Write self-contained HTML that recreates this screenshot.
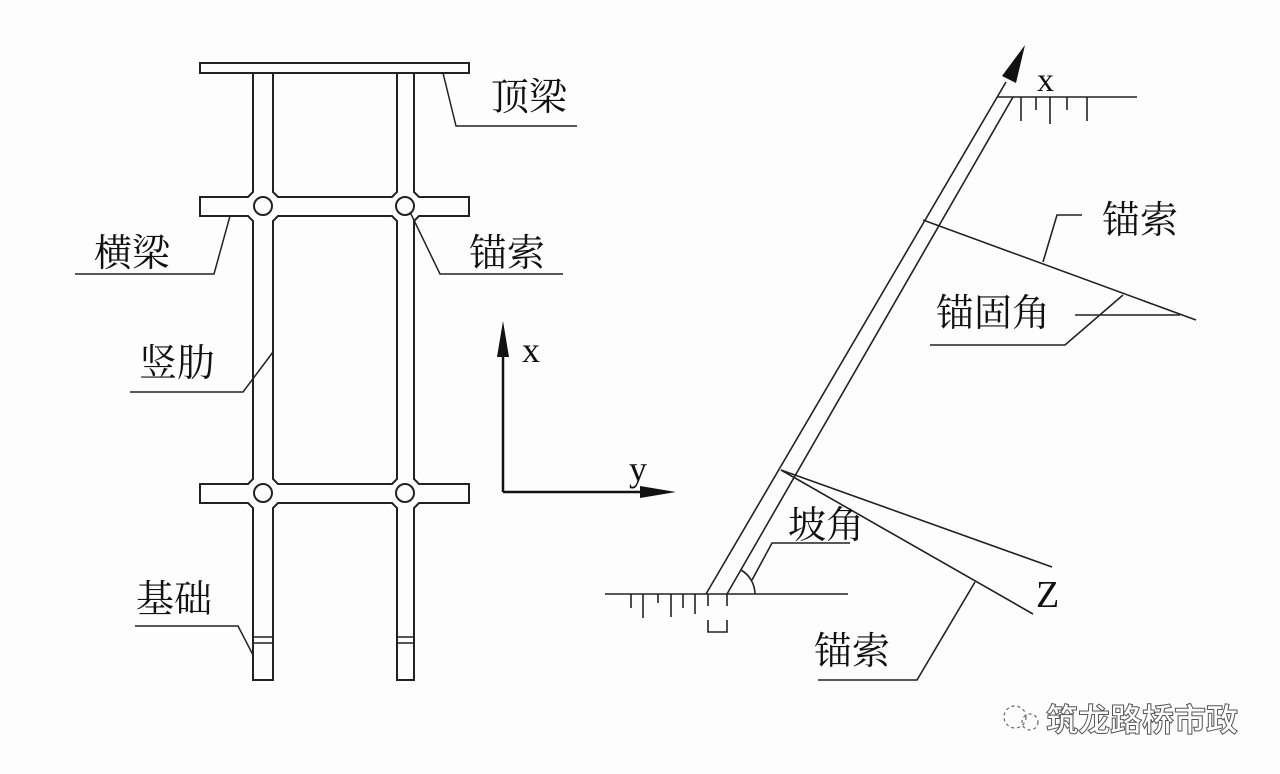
<!DOCTYPE html>
<html><head><meta charset="utf-8"><style>
html,body{margin:0;padding:0;background:#fdfdfe;}
svg{display:block}
.cj{font-family:"Liberation Serif","Noto Serif CJK SC",serif;font-size:38px;fill:#111}
.lt{font-family:"Liberation Serif",serif;fill:#111}
</style></head><body>
<svg width="1280" height="774" viewBox="0 0 1280 774" xmlns="http://www.w3.org/2000/svg">
<rect width="1280" height="774" fill="#fdfdfe"/>
<g fill="none" stroke="#222" stroke-width="2">
<rect x="200" y="63" width="269" height="10"/>
<polyline points="253,73 253,192 248,197 200,197 200,216 248,216 253,221 253,479 248,484 200,484 200,503 248,503 253,508 253,680 273,680 273,508 278,503 392,503 397,508 397,680 414,680 414,508 419,503 469,503 469,484 419,484 414,479 414,221 419,216 469,216 469,197 419,197 414,192 414,73"/>
<polygon points="273,73 397,73 397,192 392,197 278,197 273,192"/>
<polygon points="278,216 392,216 397,221 397,479 392,484 278,484 273,479 273,221"/>
<circle cx="263" cy="206" r="9"/>
<circle cx="405" cy="206" r="9"/>
<circle cx="263" cy="493" r="9"/>
<circle cx="405" cy="493" r="9"/>
<line x1="253" y1="637" x2="273" y2="637" stroke-width="1.5"/>
<line x1="253" y1="643" x2="273" y2="643" stroke-width="1.5"/>
<line x1="397" y1="637" x2="414" y2="637" stroke-width="1.5"/>
<line x1="397" y1="643" x2="414" y2="643" stroke-width="1.5"/>
</g>
<g fill="none" stroke="#222" stroke-width="1.5">
<polyline points="443,73 456,126 577,126"/>
<polyline points="230,216 214,274 75,274"/>
<polyline points="410,212 440,274 563,274"/>
<polyline points="273,352 243,392 130,392"/>
<polyline points="135,626 238,626 253,655"/>
</g>
<text class="cj" x="491" y="110">顶梁</text>
<text class="cj" x="94" y="266">横梁</text>
<text class="cj" x="469" y="266">锚索</text>
<text class="cj" x="139" y="376">竖肋</text>
<text class="cj" x="136" y="612">基础</text>
<g stroke="#111" stroke-width="2.5" fill="#111">
<line x1="503" y1="492" x2="503" y2="350"/>
<polygon points="503,321 497,357 509,357" stroke="none"/>
<line x1="503" y1="492" x2="645" y2="492"/>
<polygon points="676,492 640,486 640,498" stroke="none"/>
</g>
<text class="lt" x="522" y="362" font-size="36">x</text>
<text class="lt" x="629" y="481" font-size="36">y</text>
<g fill="none" stroke="#222" stroke-width="1.6">
<line x1="706" y1="594" x2="1006" y2="82"/>
<line x1="727" y1="594" x2="1013" y2="97"/>
<line x1="997" y1="97" x2="1137" y2="97"/>
<line x1="1021" y1="97" x2="1021" y2="121"/>
<line x1="1036" y1="97" x2="1036" y2="110"/>
<line x1="1050" y1="97" x2="1050" y2="124"/>
<line x1="1067" y1="97" x2="1067" y2="110"/>
<line x1="1087" y1="97" x2="1087" y2="121"/>
<line x1="923" y1="220" x2="1196" y2="320"/>
<line x1="1075" y1="315" x2="1180" y2="315"/>
<polyline points="1123,295 1065,345 930,345"/>
<polyline points="1043,262 1057,215 1082,215"/>
<line x1="605" y1="594" x2="848" y2="594"/>
<line x1="631" y1="594" x2="631" y2="608"/>
<line x1="643" y1="594" x2="643" y2="618"/>
<line x1="658" y1="594" x2="658" y2="603"/>
<line x1="671" y1="594" x2="671" y2="617"/>
<line x1="683" y1="594" x2="683" y2="608"/>
<line x1="695" y1="594" x2="695" y2="614"/>
<line x1="708" y1="594" x2="708" y2="606"/>
<line x1="727" y1="594" x2="727" y2="606"/>
<polyline points="708,620 708,632 727,632 727,620"/>
<path d="M755,594 A28,28 0 0 0 741,570"/>
<line x1="781" y1="470" x2="1052" y2="567"/>
<line x1="781" y1="470" x2="1033" y2="614"/>
<polyline points="752,580 772,543 850,543"/>
<polyline points="975,582 917,680 818,680"/>
</g>
<polygon points="1025,45 1002,76 1016,83" fill="#111"/>
<text class="lt" x="1037" y="91" font-size="34">x</text>
<text class="lt" x="1036" y="607" font-size="38">Z</text>
<text class="cj" x="1102" y="233">锚索</text>
<text class="cj" x="936" y="326">锚固角</text>
<text class="cj" x="788" y="538">坡角</text>
<text class="cj" x="814" y="664">锚索</text>
<g fill="none" stroke="#666" stroke-width="1.2" stroke-dasharray="3,3">
<circle cx="1015" cy="717" r="11"/>
<circle cx="1030" cy="722" r="8"/>
</g>
<text x="1046" y="731" font-family="Liberation Sans,'Noto Sans CJK SC',sans-serif" font-size="32" font-weight="bold" fill="#fff" stroke="#555" stroke-width="1">筑龙路桥市政</text>
</svg>
</body></html>
